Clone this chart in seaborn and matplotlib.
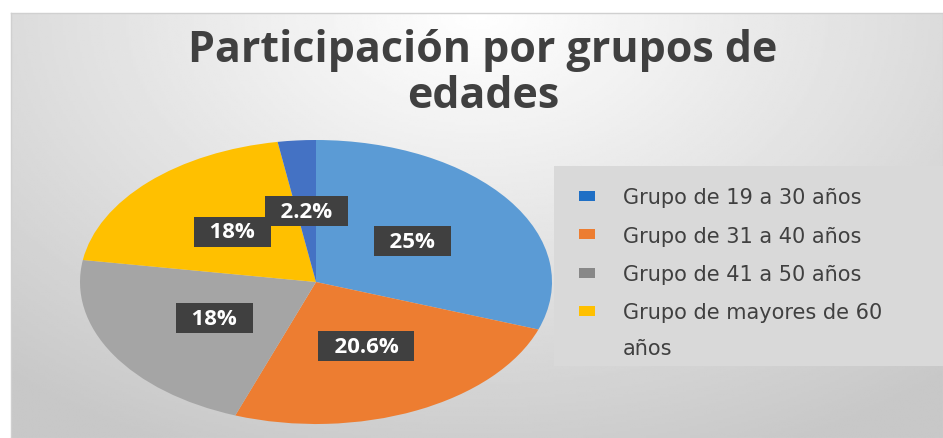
import numpy as np
import seaborn as sns
import matplotlib.pyplot as plt
from matplotlib.patches import Rectangle

# Slice shares (clockwise from 12 o'clock)
slice_values = [30.4, 25.1, 21.9, 19.9, 2.6]
# Text printed on the slices
slice_labels = ["25%", "20.6%", "18%", "18%", "2.2%"]
slice_colors = ["#5b9bd5", "#ed7d31", "#a5a5a5", "#ffc000", "#4472c4"]

legend_labels = ["Grupo de 19 a 30 años", "Grupo de 31 a 40 años",
                 "Grupo de 41 a 50 años", "Grupo de mayores de 60\naños"]
legend_colors = ["#1f6fc5", "#ed7d31", "#888888", "#ffc000"]

title = "Participación por grupos de\nedades"

sns.set_theme(style="white")
plt.rcParams['font.family'] = ['Open Sans', 'DejaVu Sans']

W, H = 943, 439
fig = plt.figure(figsize=(W / 100, H / 100), dpi=100)
fig.patch.set_facecolor("white")

# Chart area background with a soft radial gradient
bg = fig.add_axes([11 / W, 0, (W - 11) / W, (H - 14) / H])
xs = np.linspace(0, 1, 400)
ys = np.linspace(0, 1, 200)
X, Y = np.meshgrid(xs, ys)
d = np.sqrt(((X - 0.5) / 0.55) ** 2 + (Y / 0.8) ** 2)
shade = (255 - 55 * np.clip(d, 0, 1.4) / 1.4) / 255
bg.imshow(shade, cmap="gray", vmin=0, vmax=1, aspect="auto",
          extent=[0, 1, 1, 0])
bg.set_xlim(0, 1)
bg.set_ylim(1, 0)
bg.set_xticks([])
bg.set_yticks([])
for s in bg.spines.values():
    s.set_color("#d0d0d0")
    s.set_linewidth(1)

# Title (last line baseline placed, spacing tuned)
fig.text(483 / W, 1 - 108 / H, title, ha="center", va="baseline",
         fontsize=31, fontweight="bold", color="#404040", linespacing=1.09)

# Pie (stretched like the original image)
ax = fig.add_axes([80 / W, (H - 425) / H, 472 / W, 284 / H])
wedges, texts, autotexts = ax.pie(
    slice_values, colors=slice_colors, startangle=90, counterclock=False,
    autopct="%1.1f", pctdistance=0.5, wedgeprops=dict(linewidth=0))
ax.set_aspect("auto")
ax.set_xlim(-1, 1)
ax.set_ylim(-1, 1)
ax.axis("off")
for t, lab in zip(autotexts, slice_labels):
    t.set_text("  " + lab + "  ")
    t.set_color("white")
    t.set_fontsize(16)
    t.set_fontweight("bold")
    t.set_bbox(dict(boxstyle="square,pad=0.2", fc="#404040", ec="none"))

# Legend box drawn by hand (it runs past the right edge in the original)
fig.patches.append(Rectangle((554 / W, 1 - 367 / H), (W - 554) / W, 200 / H,
                             transform=fig.transFigure, fc="#d9d9d9",
                             ec="none", zorder=2))
for i, (lab, col) in enumerate(zip(legend_labels, legend_colors)):
    yc = 197 + 38.3 * i
    fig.patches.append(Rectangle((579 / W, 1 - (yc + 5) / H), 16 / W, 10 / H,
                                 transform=fig.transFigure, fc=col,
                                 ec="none", zorder=3))
    fig.text(623 / W, 1 - (yc - 8.5) / H, lab, ha="left", va="top",
             fontsize=15, color="#404040", family="DejaVu Sans",
             linespacing=1.95, zorder=4)

fig.savefig("out.png", dpi=100)
